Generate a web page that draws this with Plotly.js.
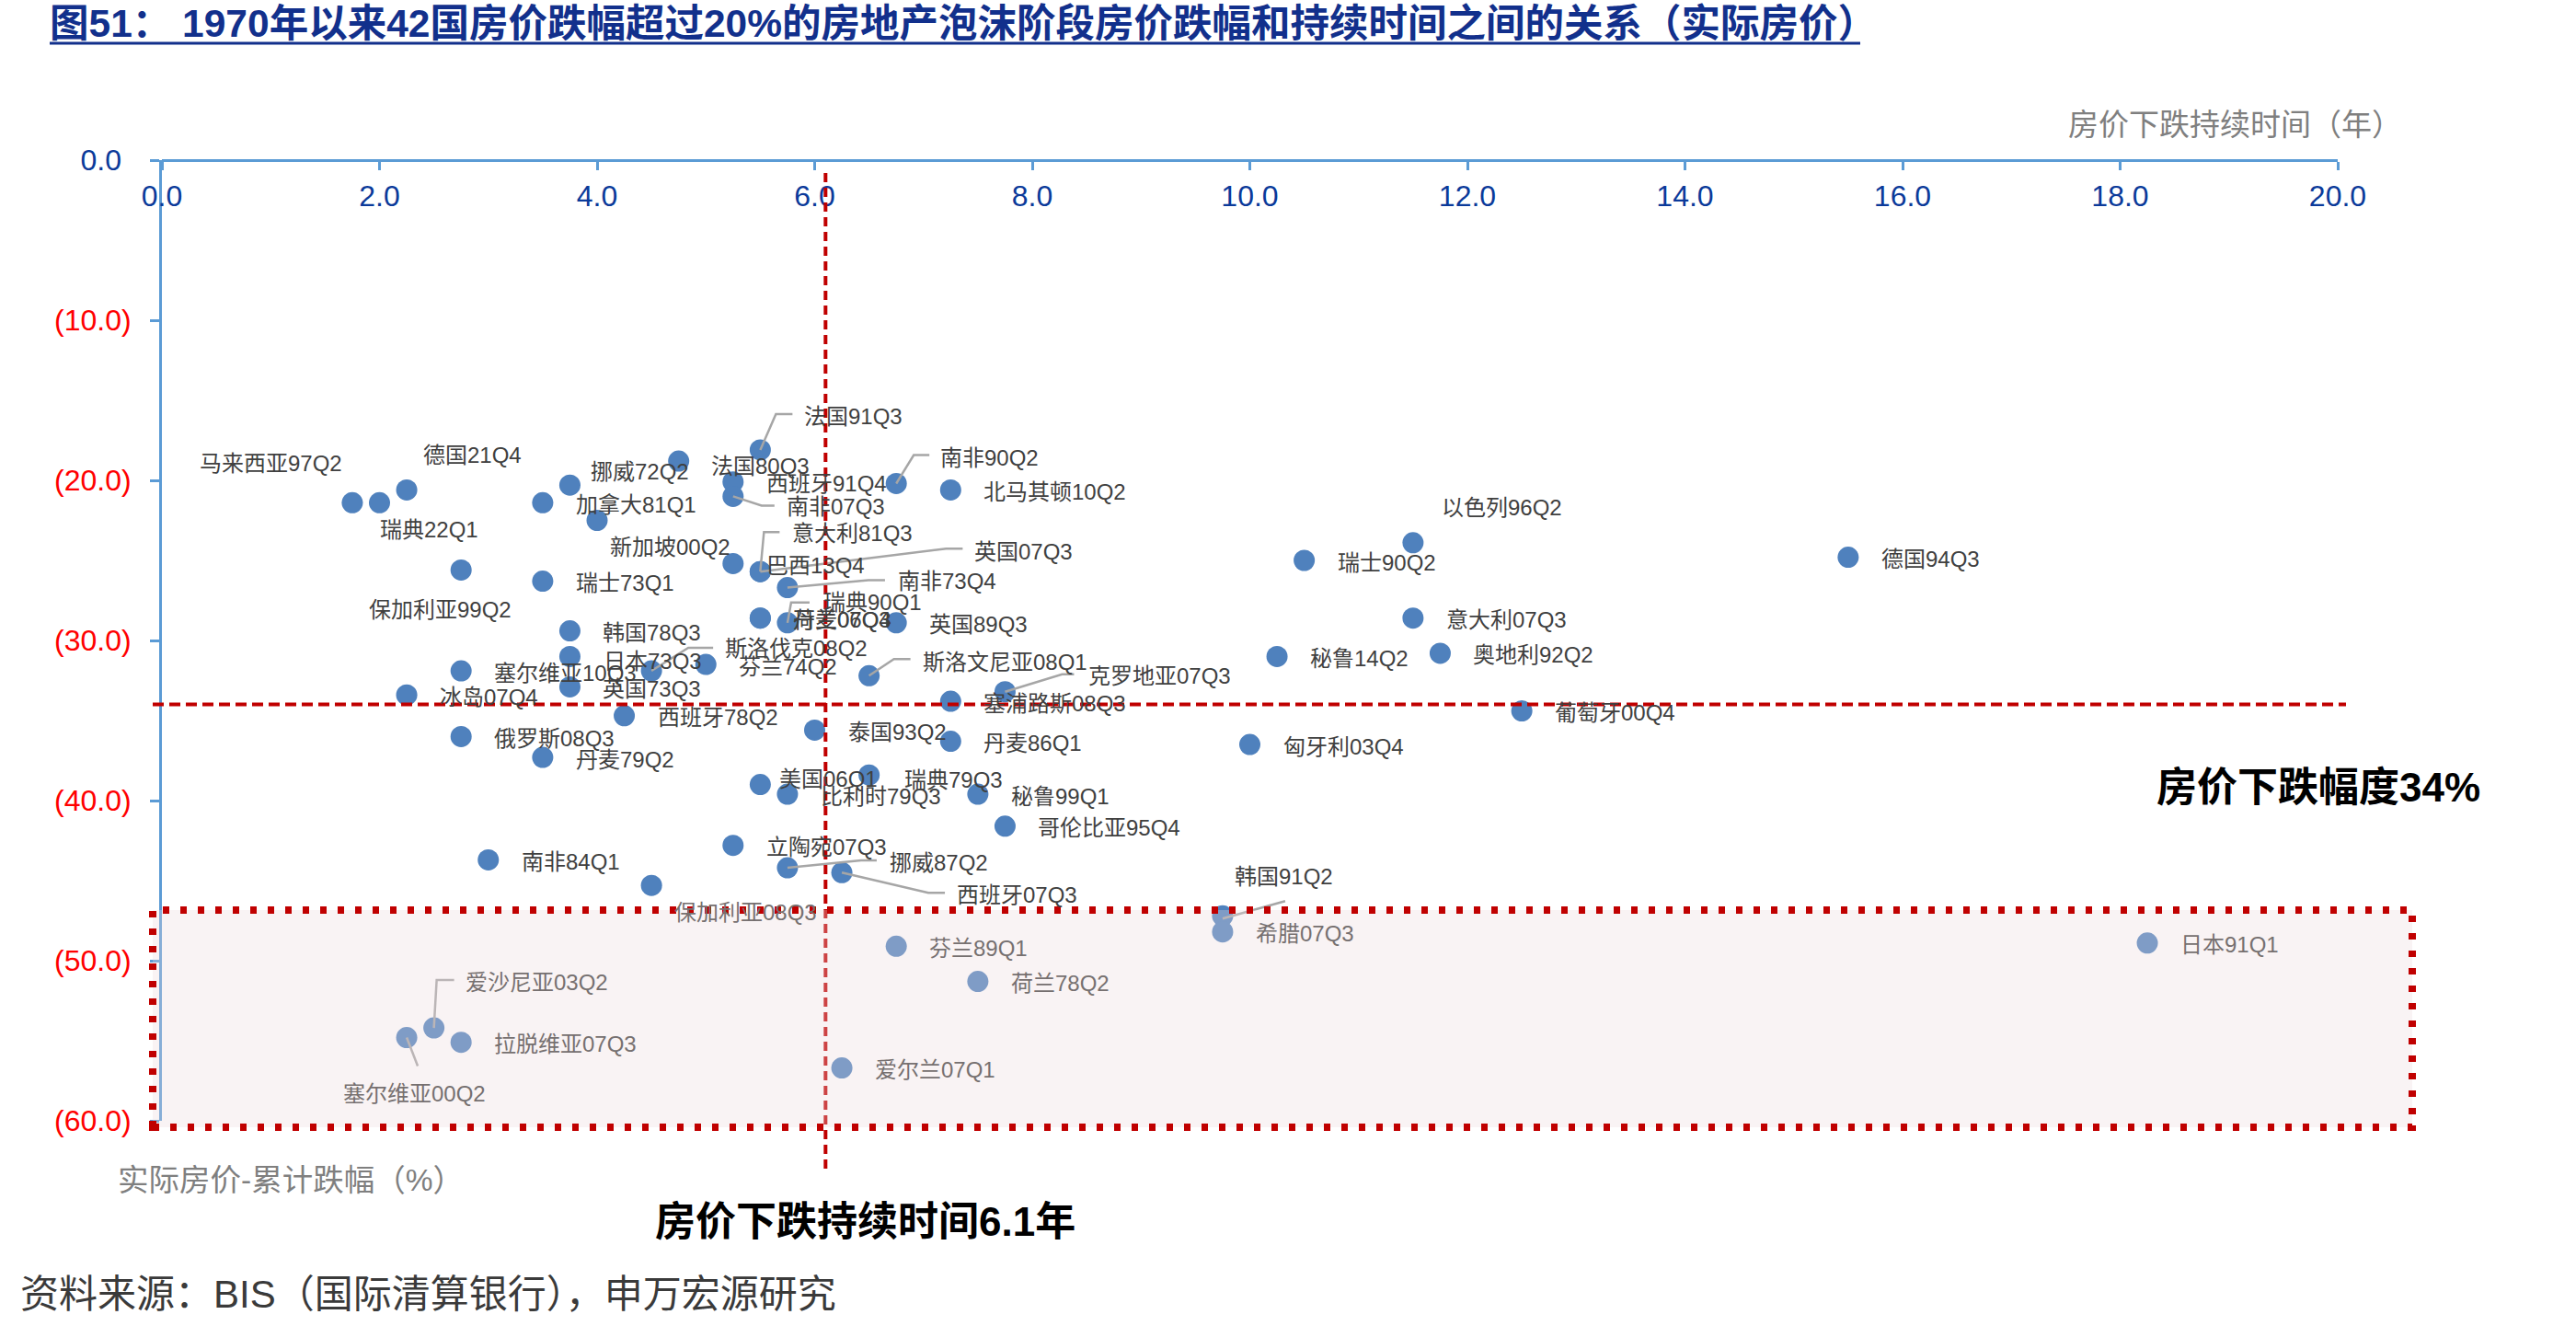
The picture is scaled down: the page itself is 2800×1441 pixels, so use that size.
<!DOCTYPE html>
<html>
<head>
<meta charset="utf-8">
<script src="https://cdn.plot.ly/plotly-3.0.1.min.js"></script>
<style>
  html, body { margin: 0; padding: 0; background: #ffffff; }
  #chart { width: 2800px; height: 1441px; }
</style>
</head>
<body>
<div id="chart"></div>
<script>
// Housing-bubble episodes: real house price drop (%) vs. length of the decline (years)
const episodes = [
  '马来西亚97Q2', '瑞典22Q1', '德国21Q4', '保加利亚99Q2', '加拿大81Q1', '新加坡00Q2',
  '挪威72Q2', '法国80Q3', '瑞士73Q1', '韩国78Q3', '日本73Q3', '塞尔维亚10Q3',
  '斯洛伐克08Q2', '英国73Q3', '冰岛07Q4', '西班牙78Q2', '俄罗斯08Q3', '丹麦79Q2',
  '芬兰74Q2', '巴西13Q4', '法国91Q3', '西班牙91Q4', '南非07Q3', '南非90Q2',
  '北马其顿10Q2', '意大利81Q3', '英国07Q3', '南非73Q4', '荷兰06Q4', '丹麦07Q3',
  '瑞典90Q1', '英国89Q3', '斯洛文尼亚08Q1', '克罗地亚07Q3', '塞浦路斯08Q3', '泰国93Q2',
  '丹麦86Q1', '以色列96Q2', '瑞士90Q2', '德国94Q3', '意大利07Q3', '秘鲁14Q2',
  '奥地利92Q2', '葡萄牙00Q4', '匈牙利03Q4', '南非84Q1', '保加利亚08Q3', '立陶宛07Q3',
  '美国06Q1', '比利时79Q3', '瑞典79Q3', '秘鲁99Q1', '哥伦比亚95Q4', '挪威87Q2',
  '西班牙07Q3', '芬兰89Q1', '荷兰78Q2', '爱尔兰07Q1', '爱沙尼亚03Q2', '塞尔维亚00Q2',
  '拉脱维亚07Q3', '韩国91Q2', '希腊07Q3', '日本91Q1'
];
const durationYears = [
  1.75, 2.0, 2.25, 2.75, 3.5, 4.0,
  3.75, 4.75, 3.5, 3.75, 3.75, 2.75,
  4.5, 3.75, 2.25, 4.25, 2.75, 3.5,
  5.0, 5.25, 5.5, 5.25, 5.25, 6.75,
  7.25, 5.5, 5.5, 5.75, 5.5, 5.5,
  5.75, 6.75, 6.5, 7.75, 7.25, 6.0,
  7.25, 11.5, 10.5, 15.5, 11.5, 10.25,
  11.75, 12.5, 10.0, 3.0, 4.5, 5.25,
  5.5, 5.75, 6.5, 7.5, 7.75, 5.75,
  6.25, 6.75, 7.5, 6.25, 2.5, 2.25,
  2.75, 9.75, 9.75, 18.25
];
const realPriceDrop = [
  -21.4, -21.4, -20.6, -25.6, -21.4, -22.5,
  -20.3, -18.8, -26.3, -29.4, -31.0, -31.9,
  -31.9, -32.9, -33.4, -34.7, -36.0, -37.3,
  -31.5, -25.2, -18.1, -20.1, -21.0, -20.2,
  -20.6, -25.7, -25.7, -26.7, -28.6, -28.6,
  -28.9, -28.9, -32.2, -33.2, -33.8, -35.6,
  -36.3, -23.9, -25.0, -24.8, -28.6, -31.0,
  -30.8, -34.4, -36.5, -43.7, -45.3, -42.8,
  -39.0, -39.6, -38.4, -39.6, -41.6, -44.2,
  -44.5, -49.1, -51.3, -56.7, -54.2, -54.8,
  -55.1, -47.2, -48.2, -48.9
];

// Reference levels quoted in the callouts
const avgDuration = 6.1;   // years
const avgDrop = -34;       // %

// Axis ticks
const xTickVals = [0, 2, 4, 6, 8, 10, 12, 14, 16, 18, 20];
const xTickText = ['0.0', '2.0', '4.0', '6.0', '8.0', '10.0', '12.0', '14.0', '16.0', '18.0', '20.0'];
const yTickVals = [0, -10, -20, -30, -40, -50, -60];
const yTickText = ['0.0', '(10.0)', '(20.0)', '(30.0)', '(40.0)', '(50.0)', '(60.0)'];

// ---- layout geometry ----
const W = 2800, H = 1441;
const M = { l: 176, r: 259, t: 174, b: 223 };
const plotW = W - M.l - M.r, plotH = H - M.t - M.b;
const X_RANGE = [0, 20], Y_RANGE = [-60, 0];
const pageX = px => (px - M.l) / plotW;
const pageY = py => 1 - (py - M.t) / plotH;
const dataXToPaper = v => (v - X_RANGE[0]) / (X_RANGE[1] - X_RANGE[0]);
const dataYToPaper = v => (v - Y_RANGE[0]) / (Y_RANGE[1] - Y_RANGE[0]);
const dataYToPage = v => M.t + (Y_RANGE[1] - v) / (Y_RANGE[1] - Y_RANGE[0]) * plotH;

const FONT = '"Liberation Sans", Arial, "Noto Sans CJK SC", sans-serif';
const BLUE_DOT = '#4F81BD';
const AXIS_BLUE = '#5B9BD5';
const TICK_BLUE = '#0B3A9A';
const LABEL_GREY = '#404040';
const LABEL_FADED = '#767070';
const RED = '#C00000';

// highlighted zone for declines beyond ~47% (page pixels)
const ZONE = { x0: 166, x1: 2622, y0: 989, y1: 1225 };

// label placement: left edge / vertical centre offset from the dot, in pixels
const DEFAULT_OFFSET = [36, 2];
const labelOffset = {
  '马来西亚97Q2': [-166, -43], '瑞典22Q1': [0, 29], '德国21Q4': [18, -38],
  '保加利亚99Q2': [-100, 43], '新加坡00Q2': [14, 29], '挪威72Q2': [23, -15],
  '法国80Q3': [35, 5], '日本73Q3': [37, 5], '斯洛伐克08Q2': [80, -25],
  '法国91Q3': [48, -36], '南非07Q3': [58, 11], '南非90Q2': [48, -28],
  '意大利81Q3': [35, -42], '英国07Q3': [233, -22], '南非73Q4': [120, -7],
  '瑞典90Q1': [39, -22], '斯洛文尼亚08Q1': [58, -15], '克罗地亚07Q3': [91, -17],
  '以色列96Q2': [31, -38], '保加利亚08Q3': [25, 29], '美国06Q1': [21, -6],
  '挪威87Q2': [111, -6], '西班牙07Q3': [125, 24], '爱沙尼亚03Q2': [34, -50],
  '塞尔维亚00Q2': [-69, 61], '韩国91Q2': [13, -43], '瑞典79Q3': [38, 5]
};

// leader lines for displaced labels (pixel vertices relative to the dot, y down)
const leaderLines = {
  '斯洛伐克08Q2': [[0, 0], [40, -25], [67, -25]],
  '法国91Q3': [[0, 0], [17, -39], [35, -39]],
  '南非07Q3': [[0, 0], [31, 10], [45, 10]],
  '南非90Q2': [[0, 0], [19, -31], [36, -31]],
  '意大利81Q3': [[0, 0], [4, -43], [21, -43]],
  '英国07Q3': [[0, 0], [202, -25], [220, -25]],
  '南非73Q4': [[0, 0], [88, -8], [106, -8]],
  '瑞典90Q1': [[0, 0], [4, -22], [24, -22]],
  '斯洛文尼亚08Q1': [[0, 0], [27, -18], [45, -18]],
  '克罗地亚07Q3': [[0, 0], [62, -19], [75, -19]],
  '挪威87Q2': [[0, 0], [80, -8], [97, -8]],
  '西班牙07Q3': [[0, 0], [94, 22], [112, 22]],
  '爱沙尼亚03Q2': [[0, 0], [3, -52], [22, -52]],
  '塞尔维亚00Q2': [[0, 0], [12, 31]],
  '韩国91Q2': [[0, 3], [68, -16]]
};

// ---- traces ----
const traces = [{
  type: 'scatter',
  mode: 'markers',
  x: durationYears,
  y: realPriceDrop,
  text: episodes,
  hoverinfo: 'text+x+y',
  marker: { size: 23, color: BLUE_DOT, line: { width: 0 } },
  showlegend: false,
  cliponaxis: false
}];

// ---- annotations ----
const annotations = [];
episodes.forEach((name, i) => {
  const off = labelOffset[name] || DEFAULT_OFFSET;
  const labelCentreY = dataYToPage(realPriceDrop[i]) + off[1];
  const faded = labelCentreY > ZONE.y0;
  annotations.push({
    x: durationYears[i], y: realPriceDrop[i], xref: 'x', yref: 'y',
    text: name, showarrow: false,
    xanchor: 'left', yanchor: 'middle',
    xshift: off[0], yshift: -off[1],
    borderpad: 0, borderwidth: 0,
    font: { family: FONT, size: 24, color: faded ? LABEL_FADED : LABEL_GREY }
  });
});

const pageText = (text, px, py, anchor, size, color, bold) => ({
  text, xref: 'paper', yref: 'paper', x: pageX(px), y: pageY(py),
  xanchor: anchor, yanchor: 'middle', showarrow: false, borderpad: 0,
  font: { family: FONT, size, color, weight: bold ? 'bold' : 'normal' }
});

annotations.push(pageText('房价下跌持续时间（年）', 2612, 136, 'right', 33, '#7F7F7F', false));
annotations.push(pageText('实际房价-累计跌幅（%）', 127, 1282, 'left', 33.5, '#7F7F7F', false));
annotations.push(pageText('房价下跌幅度' + Math.abs(avgDrop) + '%', 2343, 855, 'left', 44, '#000000', true));
annotations.push(pageText('房价下跌持续时间' + avgDuration.toFixed(1) + '年', 711, 1327, 'left', 44, '#000000', true));
annotations.push(pageText('资料来源：BIS（国际清算银行），申万宏源研究', 21, 1406, 'left', 42, '#3A3A3A', false));

// ---- shapes ----
const shapes = [];

Object.keys(leaderLines).forEach(name => {
  const i = episodes.indexOf(name);
  const pts = leaderLines[name];
  const path = pts.map((p, k) => (k ? 'L' : 'M') + p[0] + ',' + (-p[1])).join(' ');
  shapes.push({
    type: 'path', layer: 'above',
    xref: 'x', yref: 'y', xsizemode: 'pixel', ysizemode: 'pixel',
    xanchor: durationYears[i], yanchor: realPriceDrop[i],
    path, line: { color: '#A6A6A6', width: 2.5 }
  });
});

// average decline
shapes.push({
  type: 'line', layer: 'above', xref: 'paper', yref: 'paper',
  x0: pageX(166), x1: pageX(2550),
  y0: dataYToPaper(avgDrop), y1: dataYToPaper(avgDrop),
  line: { color: RED, width: 4, dash: '12px,6px' }
});
// average duration
shapes.push({
  type: 'line', layer: 'above', xref: 'paper', yref: 'paper',
  x0: dataXToPaper(avgDuration), x1: dataXToPaper(avgDuration),
  y0: pageY(188), y1: pageY(1270),
  line: { color: RED, width: 4, dash: '10px,6px' }
});
// deep-decline zone
shapes.push({
  type: 'rect', layer: 'above', xref: 'paper', yref: 'paper',
  x0: pageX(ZONE.x0), x1: pageX(ZONE.x1), y0: pageY(ZONE.y1), y1: pageY(ZONE.y0),
  fillcolor: 'rgba(236,216,218,0.31)',
  line: { color: RED, width: 8, dash: '7px,12px' }
});
// title underline
shapes.push({
  type: 'line', xref: 'paper', yref: 'paper',
  x0: pageX(54), x1: pageX(2022), y0: pageY(47), y1: pageY(47),
  line: { color: '#12308C', width: 3 }
});

const yTickLabels = yTickText.map((t, k) =>
  yTickVals[k] < 0
    ? '<span style="color:#FF0000">' + t + '</span>'
    : '<span style="color:' + TICK_BLUE + '">' + t + '</span><span style="color:rgba(255,255,255,0)">)</span>'
);

const layout = {
  width: W, height: H,
  margin: { l: M.l, r: M.r, t: M.t, b: M.b, pad: 0 },
  paper_bgcolor: '#ffffff', plot_bgcolor: '#ffffff',
  showlegend: false,
  title: {
    text: '图51： 1970年以来42国房价跌幅超过20%的房地产泡沫阶段房价跌幅和持续时间之间的关系（实际房价）',
    font: { family: FONT, size: 42.5, color: '#12308C', weight: 'bold' },
    xref: 'container', yref: 'container',
    x: 54 / W, xanchor: 'left', y: 1 - 25 / H, yanchor: 'middle'
  },
  xaxis: {
    range: X_RANGE, anchor: 'free', position: 1, side: 'bottom',
    tickmode: 'array', tickvals: xTickVals, ticktext: xTickText,
    showline: true, linecolor: AXIS_BLUE, linewidth: 3,
    ticks: 'outside', ticklen: 9, tickwidth: 3, tickcolor: AXIS_BLUE,
    ticklabelstandoff: 1,
    tickfont: { family: FONT, size: 32, color: TICK_BLUE },
    showgrid: false, zeroline: false, fixedrange: true
  },
  yaxis: {
    range: Y_RANGE,
    tickmode: 'array', tickvals: yTickVals, ticktext: yTickLabels,
    showline: true, linecolor: AXIS_BLUE, linewidth: 3,
    ticks: 'outside', ticklen: 10, tickwidth: 3, tickcolor: AXIS_BLUE,
    ticklabelstandoff: 14,
    tickfont: { family: FONT, size: 32, color: '#FF0000' },
    showgrid: false, zeroline: false, fixedrange: true
  },
  annotations, shapes,
  hovermode: 'closest'
};

Plotly.newPlot('chart', traces, layout, { displayModeBar: false, responsive: false });
</script>
</body>
</html>
